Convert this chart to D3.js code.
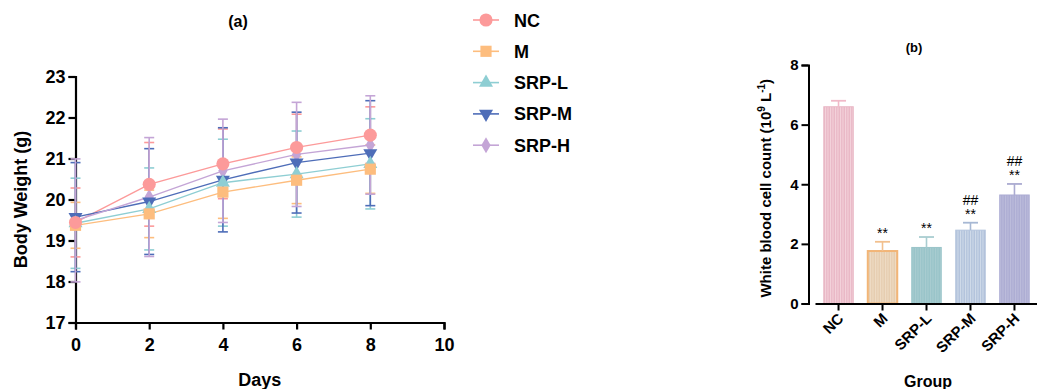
<!DOCTYPE html>
<html>
<head>
<meta charset="utf-8">
<script src="https://cdn.jsdelivr.net/npm/d3@7"></script>
<style>
  body { margin: 0; background: #fff; }
  text { font-family: 'Liberation Sans', Arial, sans-serif; }
</style>
</head>
<body>
<svg id="chart" width="1037" height="389"></svg>
<script>
// Data
const days = [0, 2, 4, 6, 8];
const groups = ['NC', 'M', 'SRP-L', 'SRP-M', 'SRP-H'];
const ncWeight = [19.44, 20.37, 20.87, 21.27, 21.57];
const ncSd = [0.84, 1.02, 0.85, 0.81, 0.69];
const mWeight = [19.37, 19.65, 20.18, 20.47, 20.74];
const mSd = [0.56, 0.58, 0.64, 0.57, 0.59];
const lWeight = [19.42, 19.77, 20.41, 20.62, 20.87];
const lSd = [1.1, 1.0, 1.06, 1.05, 1.1];
const medWeight = [19.57, 19.95, 20.48, 20.9, 21.13];
const medSd = [1.33, 1.29, 1.27, 1.23, 1.28];
const hWeight = [19.49, 20.06, 20.7, 21.1, 21.33];
const hSd = [1.5, 1.45, 1.26, 1.27, 1.2];
const wbc = [6.6, 1.76, 1.88, 2.46, 3.64];
const wbcSd = [0.2, 0.31, 0.35, 0.25, 0.37];
const starMarks = ['', '**', '**', '**', '**'];
const hashMarks = ['', '', '', '##', '##'];
const yTicksA = [17, 18, 19, 20, 21, 22, 23];
const xTicksA = [0, 2, 4, 6, 8, 10];
const yTicksB = [0, 2, 4, 6, 8];

const lineColors = ['#FC9A9A', '#FDBD7E', '#8ECED3', '#4E6DB8', '#C4A5D6'];
const symbols = [d3.symbolCircle, d3.symbolSquare, d3.symbolTriangle, d3.symbolTriangle, d3.symbolDiamond];
const symSizes = [135, 125, 85, 85, 75];
const symRot = [0, 0, 0, 180, 0];

const series = [
  { name: groups[0], v: ncWeight, sd: ncSd },
  { name: groups[1], v: mWeight, sd: mSd },
  { name: groups[2], v: lWeight, sd: lSd },
  { name: groups[3], v: medWeight, sd: medSd },
  { name: groups[4], v: hWeight, sd: hSd }
];

const svg = d3.select('#chart');
const FONT = "'Liberation Sans', Arial, sans-serif";

// ---------- panel (a) ----------
const x = d3.scaleLinear().domain([0, 10]).range([75.5, 444]);
const y = d3.scaleLinear().domain([17, 23]).range([322.5, 76.5]);

const gA = svg.append('g');

gA.append('g')
  .attr('transform', `translate(0,${y(17)})`)
  .call(d3.axisBottom(x).tickValues(xTicksA).tickFormat(d3.format('d')).tickSize(7).tickPadding(9))
  .call(g => g.select('.domain').attr('stroke-width', 2.2))
  .call(g => g.selectAll('.tick line').attr('stroke-width', 2.2))
  .call(g => g.selectAll('text').attr('font-size', 18).attr('font-weight', 'bold').attr('fill', '#000')
    .attr('font-family', FONT));

gA.append('g')
  .attr('transform', `translate(${x(0)},0)`)
  .call(d3.axisLeft(y).tickValues(yTicksA).tickFormat(d3.format('d')).tickSize(7).tickPadding(3))
  .call(g => g.select('.domain').attr('stroke-width', 2.2))
  .call(g => g.selectAll('.tick line').attr('stroke-width', 2.2))
  .call(g => g.selectAll('text').attr('font-size', 18).attr('font-weight', 'bold').attr('fill', '#000')
    .attr('font-family', FONT));

// error bars
series.forEach((s, i) => {
  const eg = gA.append('g').attr('stroke', lineColors[i]).attr('stroke-width', 1.6);
  days.forEach((d, j) => {
    const cx = x(d);
    const top = y(s.v[j] + s.sd[j]);
    const bot = y(s.v[j] - s.sd[j]);
    eg.append('line').attr('x1', cx).attr('x2', cx).attr('y1', top).attr('y2', bot);
    eg.append('line').attr('x1', cx - 5).attr('x2', cx + 5).attr('y1', top).attr('y2', top);
    eg.append('line').attr('x1', cx - 5).attr('x2', cx + 5).attr('y1', bot).attr('y2', bot);
  });
});

// lines
const line = d3.line().x((d, j) => x(days[j])).y(d => y(d));
series.forEach((s, i) => {
  gA.append('path').datum(s.v)
    .attr('d', line)
    .attr('fill', 'none')
    .attr('stroke', lineColors[i])
    .attr('stroke-width', 1.4);
});

// markers, drawn back to front so NC sits on top
[4, 3, 2, 1, 0].forEach(i => {
  const s = series[i];
  gA.append('g').selectAll('path')
    .data(s.v)
    .join('path')
    .attr('d', d3.symbol(symbols[i], symSizes[i]))
    .attr('transform', (d, j) => `translate(${x(days[j])},${y(d)}) rotate(${symRot[i]})`)
    .attr('fill', lineColors[i]);
});

gA.append('text')
  .attr('x', x(5)).attr('y', 386)
  .attr('text-anchor', 'middle')
  .attr('font-size', 18).attr('font-weight', 'bold')
  .text('Days');

gA.append('text')
  .attr('transform', `translate(27,${y(20)}) rotate(-90)`)
  .attr('text-anchor', 'middle')
  .attr('font-size', 18).attr('font-weight', 'bold')
  .text('Body Weight (g)');

gA.append('text')
  .attr('x', 238).attr('y', 27)
  .attr('text-anchor', 'middle')
  .attr('font-size', 16).attr('font-weight', 'bold')
  .text('(a)');

// legend
const legend = svg.append('g').attr('transform', 'translate(473,20)');
groups.forEach((g, i) => {
  const row = legend.append('g').attr('transform', `translate(0,${i * 31.3})`);
  row.append('line').attr('x1', 0).attr('x2', 26).attr('stroke', lineColors[i]).attr('stroke-width', 1.6);
  row.append('path')
    .attr('d', d3.symbol(symbols[i], symSizes[i]))
    .attr('transform', `translate(13,0) rotate(${symRot[i]})`)
    .attr('fill', lineColors[i]);
  row.append('text')
    .attr('x', 41).attr('y', 6.5)
    .attr('font-size', 18).attr('font-weight', 'bold')
    .text(g);
});

// ---------- panel (b) ----------
const barFill = ['#E9B8C6', '#E6CDB0', '#99C4C9', '#B2C3DC', '#ADADD3'];
const barStripe = ['#F4D3DC', '#EFDCC6', '#A9CDD1', '#D2DCEA', '#BDBDDC'];
const barEdge = ['#E9B8C6', '#F2B577', '#99C4C9', '#B2C3DC', '#ADADD3'];
const barErr = ['#F0B9C8', '#F2C08E', '#A9CDD1', '#A7B8D4', '#ABABD1'];

const defs = svg.append('defs');
groups.forEach((g, i) => {
  const p = defs.append('pattern')
    .attr('id', `stripe${i}`)
    .attr('patternUnits', 'userSpaceOnUse')
    .attr('width', 2.5).attr('height', 4);
  p.append('rect').attr('width', 2.5).attr('height', 4).attr('fill', barFill[i]);
  p.append('rect').attr('width', 1).attr('height', 4).attr('fill', barStripe[i]);
});

const xb = d3.scaleBand().domain(groups).range([815, 1038]).paddingInner(0.33).paddingOuter(0.2);
const yb = d3.scaleLinear().domain([0, 8]).range([303.5, 65]);

const gB = svg.append('g');

// bars
gB.selectAll('rect.bar')
  .data(wbc)
  .join('rect')
  .attr('class', 'bar')
  .attr('x', (d, i) => xb(groups[i]))
  .attr('y', d => yb(d))
  .attr('width', xb.bandwidth())
  .attr('height', d => yb(0) - yb(d))
  .attr('fill', (d, i) => `url(#stripe${i})`)
  .attr('stroke', (d, i) => barEdge[i])
  .attr('stroke-width', (d, i) => i === 1 ? 2 : 1);

// upper error bars
wbc.forEach((d, i) => {
  const cx = xb(groups[i]) + xb.bandwidth() / 2;
  const top = yb(d + wbcSd[i]);
  gB.append('line').attr('x1', cx).attr('x2', cx).attr('y1', yb(d)).attr('y2', top)
    .attr('stroke', barErr[i]).attr('stroke-width', 1.6);
  gB.append('line').attr('x1', cx - 7.5).attr('x2', cx + 7.5).attr('y1', top).attr('y2', top)
    .attr('stroke', barErr[i]).attr('stroke-width', 1.8);
  if (starMarks[i]) {
    gB.append('text').attr('x', cx).attr('y', top - 4)
      .attr('text-anchor', 'middle').attr('font-size', 14)
      .attr('font-family', "'DejaVu Sans', sans-serif")
      .text(starMarks[i]);
  }
  if (hashMarks[i]) {
    gB.append('text').attr('x', cx).attr('y', top - 18)
      .attr('text-anchor', 'middle').attr('font-size', 14)
      .attr('font-family', "'DejaVu Serif', serif")
      .text(hashMarks[i]);
  }
});

gB.append('g')
  .attr('transform', `translate(0,${yb(0)})`)
  .call(d3.axisBottom(xb).tickSize(7).tickSizeOuter(0).tickFormat(''))
  .call(g => g.select('.domain').attr('stroke-width', 2))
  .call(g => g.selectAll('.tick line').attr('stroke-width', 2));

gB.append('g')
  .attr('transform', `translate(808.5,0)`)
  .call(d3.axisLeft(yb).tickValues(yTicksB).tickSize(7).tickPadding(3))
  .call(g => g.select('.domain').attr('stroke-width', 2))
  .call(g => g.selectAll('.tick line').attr('stroke-width', 2))
  .call(g => g.selectAll('text').attr('font-size', 15).attr('font-weight', 'bold').attr('fill', '#000')
    .attr('font-family', FONT));

// rotated category labels
gB.selectAll('text.cat')
  .data(groups)
  .join('text')
  .attr('class', 'cat')
  .attr('transform', d => `translate(${xb(d) + xb.bandwidth() / 2 + 6},${yb(0) + 16}) rotate(-45)`)
  .attr('text-anchor', 'end')
  .attr('font-size', 15).attr('font-weight', 'bold')
  .text(d => d);

gB.append('text')
  .attr('x', 928).attr('y', 387)
  .attr('text-anchor', 'middle')
  .attr('font-size', 16).attr('font-weight', 'bold')
  .text('Group');

const yl = gB.append('text')
  .attr('transform', `translate(771,${yb(4) + 4}) rotate(-90)`)
  .attr('text-anchor', 'middle')
  .attr('font-size', 15).attr('font-weight', 'bold');
yl.append('tspan').text('White blood cell count (10');
yl.append('tspan').attr('dy', -6).attr('font-size', 10).text('9');
yl.append('tspan').attr('dy', 6).text(' L');
yl.append('tspan').attr('dy', -6).attr('font-size', 10).text('-1');
yl.append('tspan').attr('dy', 6).text(')');

gB.append('text')
  .attr('x', 914).attr('y', 52)
  .attr('text-anchor', 'middle')
  .attr('font-size', 13).attr('font-weight', 'bold')
  .text('(b)');
</script>
</body>
</html>
